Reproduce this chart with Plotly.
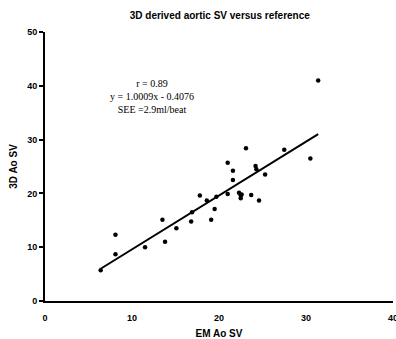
import plotly.graph_objects as go

em_ao_sv = [6.4, 8.1, 8.1, 11.5, 13.5, 13.8, 15.1, 16.8, 16.9, 17.8, 18.6, 19.1, 19.5, 19.7,
            21.0, 21.0, 21.6, 21.6, 22.3, 22.5, 22.5, 22.6, 23.1, 23.7, 24.2, 24.3, 24.6,
            25.3, 27.5, 30.5, 31.4]
d3_ao_sv = [5.7, 8.7, 12.3, 10.0, 15.1, 11.0, 13.5, 14.8, 16.5, 19.6, 18.7, 15.1, 17.1, 19.4,
            25.7, 19.9, 24.2, 22.5, 20.1, 19.6, 19.1, 19.8, 28.4, 19.7, 25.1, 24.5, 18.7,
            23.5, 28.1, 26.5, 41.0]
slope = 1.0009
intercept = -0.4076
x_ticks = [0, 10, 20, 30, 40]
y_ticks = [0, 10, 20, 30, 40, 50]

fit_x = [min(em_ao_sv), max(em_ao_sv)]
fit_y = [slope * v + intercept for v in fit_x]

fig = go.Figure()
fig.add_trace(go.Scatter(x=fit_x, y=fit_y, mode="lines",
                         line=dict(color="black", width=2), showlegend=False))
fig.add_trace(go.Scatter(x=em_ao_sv, y=d3_ao_sv, mode="markers",
                         marker=dict(color="black", size=4.5), showlegend=False))

tick_font = dict(family="Liberation Sans, Arial", size=9, color="black")
fig.update_layout(
    width=396, height=339,
    margin=dict(l=45, r=3, t=32, b=38, autoexpand=False),
    paper_bgcolor="white", plot_bgcolor="white",
    title=dict(text="<b>3D derived aortic SV versus reference</b>", x=0.555, xanchor="center",
               y=0.955, yanchor="middle",
               font=dict(family="Liberation Sans, Arial", size=10, color="black")),
    xaxis=dict(range=[0, 40], tickvals=x_ticks, ticktext=[f"<b>{v}</b>" for v in x_ticks],
               showgrid=False, zeroline=False, automargin=False, ticklabeloverflow="allow",
               ticklabelstandoff=7,
               showline=True, linecolor="black", linewidth=2, ticks="",
               tickfont=tick_font,
               title=dict(text="<b>EM Ao SV</b>", standoff=12,
                          font=dict(family="Liberation Sans", size=10, color="black"))),
    yaxis=dict(range=[0, 50], tickvals=y_ticks, ticktext=[f"<b>{v}</b>" for v in y_ticks],
               showgrid=False, zeroline=False, automargin=False,
               showline=True, linecolor="black", linewidth=2, ticks="outside",
               ticklen=4, tickcolor="black", tickwidth=1.5,
               tickfont=tick_font,
               title=dict(text="<b>3D Ao SV</b>", standoff=8,
                          font=dict(family="Liberation Sans", size=10, color="black"))),
    annotations=[dict(x=12.3, y=38.0, xref="x", yref="y",
                      text="r = 0.89<br>y = 1.0009x - 0.4076<br>SEE =2.9ml/beat",
                      showarrow=False, align="center",
                      font=dict(family="Liberation Serif", size=10, color="black"))],
)
fig.write_html("out.html", config={"displayModeBar": False},
               post_script="document.body.style.margin='0px';document.body.style.overflow='hidden';")
